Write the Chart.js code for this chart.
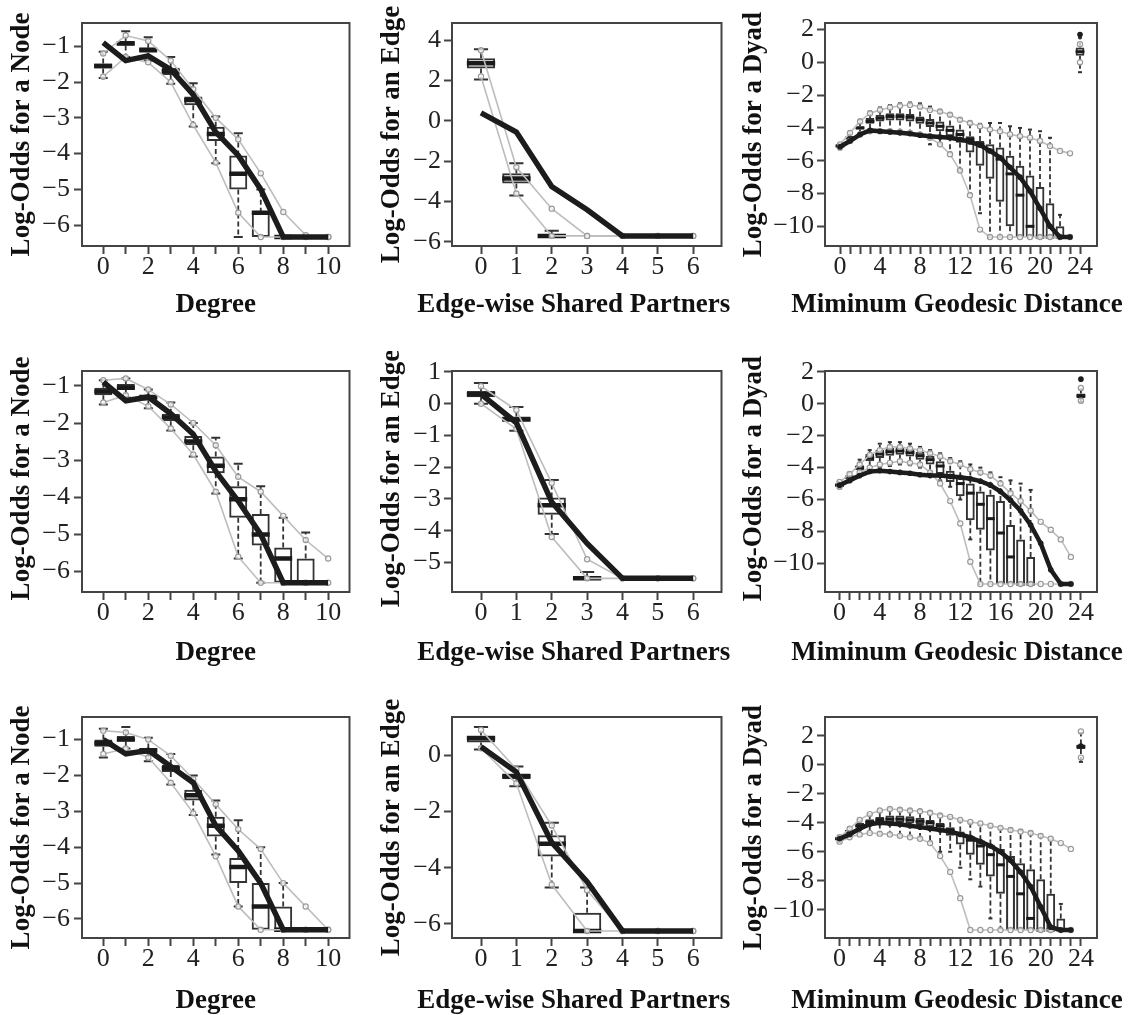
<!DOCTYPE html>
<html>
<head>
<meta charset="utf-8">
<script src="https://cdn.jsdelivr.net/npm/chart.js@4.4.1/dist/chart.umd.min.js"></script>
<style>
  html, body { margin: 0; padding: 0; background: #fff; }
  #wrap { position: relative; width: 1130px; height: 1015px; overflow: hidden; }
  #wrap canvas { position: absolute; }
</style>
</head>
<body>
<div id="wrap"></div>
<script>
// =========================================================
// GOF boxplots: Degree / Edge-wise Shared Partners / Geodesic Distance
// three rows (models) x three statistics
// =========================================================

// ── Categories ──
const degX  = [0, 1, 2, 3, 4, 5, 6, 7, 8, 9, 10];
const espX  = [0, 1, 2, 3, 4, 5, 6];
const distX = [0, 1, 2, 3, 4, 5, 6, 7, 8, 9, 10, 11, 12, 13, 14, 15, 16, 17, 18, 19, 20, 21, 22, 23, 24]; // 24 = NR

// ── Tick values / labelled ticks ──
const degTicks   = [0, 1, 2, 3, 4, 5, 6, 7, 8, 9, 10];
const degLabels  = [0, 2, 4, 6, 8, 10];
const espTicks   = [0, 1, 2, 3, 4, 5, 6];
const espLabels  = [0, 1, 2, 3, 4, 5, 6];
const distTicks  = [0, 1, 2, 3, 4, 5, 6, 7, 8, 9, 10, 11, 12, 13, 14, 15, 16, 17, 18, 19, 20, 21, 22, 23, 24];
const distLabels = [0, 4, 8, 12, 16, 20, 24];
const degYTicks  = [-6, -5, -4, -3, -2, -1];
const esp1YTicks = [-6, -4, -2, 0, 2, 4];
const esp2YTicks = [-5, -4, -3, -2, -1, 0, 1];
const esp3YTicks = [-6, -4, -2, 0];
const distYTicks = [-10, -8, -6, -4, -2, 0, 2];

// ── Row 1: degree ──
const deg1Obs = [-0.9, -1.4, -1.27, -1.65, -2.35, -3.4, -4.05, -5.0, -6.33, -6.33, -6.33];
const deg1Hi  = [-1.2, -0.7, -0.85, -1.4, -2.2, -3.0, -3.6, -4.55, -5.63, -6.28, -6.33];
const deg1Lo  = [-1.85, -1.3, -1.45, -2.0, -3.2, -4.25, -5.65, -6.33, -6.33, -6.33, -6.33];
const deg1Q1  = [-1.62, -0.98, -1.18, -1.8, -2.65, -3.65, -5.0, -6.33, -6.33, null, null];
const deg1Med = [-1.55, -0.92, -1.1, -1.7, -2.5, -3.45, -4.56, -5.65, -6.33, null, null];
const deg1Q3  = [-1.48, -0.85, -1.04, -1.6, -2.4, -3.25, -4.05, -5.65, -6.33, null, null];
const deg1WHi = [-1.15, -0.58, -0.75, -1.3, -2.03, -2.96, -3.43, -5.0, -6.33, null, null];
const deg1WLo = [-1.89, -1.3, -1.4, -2.05, -3.24, -4.27, -6.33, -6.33, -6.33, null, null];

// ── Row 1: edge-wise shared partners ──
const esp1Obs = [0.4, -0.55, -3.25, -4.4, -5.7, -5.7, -5.7];
const esp1Hi  = [3.5, -2.3, -4.35, -5.7, -5.7, -5.7, -5.7];
const esp1Lo  = [2.2, -3.6, -5.7, -5.7, -5.7, -5.7, -5.7];
const esp1Q1  = [2.6, -3.1, -5.7, null, null, null, null];
const esp1Med = [2.85, -2.85, -5.7, null, null, null, null];
const esp1Q3  = [3.1, -2.6, -5.7, null, null, null, null];
const esp1WHi = [3.55, -2.1, -5.45, null, null, null, null];
const esp1WLo = [2.05, -3.7, -5.7, null, null, null, null];

// ── Row 1: geodesic distance (last value = NR) ──
const dist1Obs = [-5.15, -4.8, -4.4, -4.15, -4.2, -4.25, -4.3, -4.35, -4.45, -4.5, -4.55, -4.6, -4.7, -4.85, -5.05, -5.4, -5.8, -6.4, -7.0, -7.85, -8.9, -10.0, -10.65, -10.65, 1.7];
const dist1Hi  = [-5.0, -4.3, -3.6, -3.1, -2.9, -2.75, -2.65, -2.6, -2.7, -2.9, -3.0, -3.2, -3.5, -3.7, -3.9, -4.1, -4.2, -4.4, -4.5, -4.6, -4.8, -5.1, -5.4, -5.55, 1.1];
const dist1Lo  = [-5.2, -4.8, -4.4, -4.2, -4.2, -4.2, -4.25, -4.3, -4.4, -4.6, -5.0, -5.6, -6.6, -8.1, -10.2, -10.65, -10.65, -10.65, -10.65, -10.65, -10.65, -10.65, -10.65, -10.65, 0.0];
const dist1Q1  = [-5.2, -4.7, -4.1, -3.75, -3.6, -3.55, -3.55, -3.6, -3.75, -3.95, -4.2, -4.5, -4.9, -5.5, -6.3, -7.1, -8.5, -10.0, -10.65, -10.65, -10.65, -10.65, -10.65, null, 0.4];
const dist1Med = [-5.1, -4.6, -4.0, -3.6, -3.4, -3.3, -3.3, -3.35, -3.5, -3.7, -3.9, -4.15, -4.4, -4.7, -5.0, -5.4, -5.9, -6.8, -8.1, -10.0, -10.65, -10.65, -10.65, null, 0.65];
const dist1Q3  = [-5.0, -4.5, -3.9, -3.4, -3.2, -3.1, -3.1, -3.15, -3.3, -3.45, -3.6, -3.85, -4.1, -4.5, -4.8, -5.0, -5.2, -5.7, -6.3, -6.9, -7.6, -8.6, -10.0, null, 0.9];
const dist1WHi = [-4.95, -4.2, -3.5, -3.0, -2.75, -2.6, -2.5, -2.45, -2.5, -2.7, -2.9, -3.1, -3.4, -3.6, -3.75, -3.7, -3.7, -3.9, -4.0, -4.1, -4.2, -4.6, -9.3, null, 1.5];
const dist1WLo = [-5.3, -4.9, -4.5, -4.3, -4.3, -4.3, -4.35, -4.4, -4.5, -5.0, -5.0, -5.5, -6.6, -8.0, -9.2, -10.65, -10.65, -10.65, -10.65, -10.65, -10.65, -10.65, -10.65, null, -0.6];

// ── Row 2: degree ──
const deg2Obs = [-0.9, -1.4, -1.3, -1.75, -2.3, -3.3, -4.1, -5.0, -6.3, -6.3, -6.3];
const deg2Hi  = [-0.85, -0.8, -1.1, -1.5, -2.0, -2.6, -3.45, -3.85, -4.5, -5.15, -5.65];
const deg2Lo  = [-1.45, -1.25, -1.55, -2.15, -2.85, -3.85, -5.6, -6.3, -6.3, -6.3, -6.3];
const deg2Q1  = [-1.25, -1.1, -1.4, -1.95, -2.6, -3.35, -4.55, -5.3, -6.3, -6.3, null];
const deg2Med = [-1.15, -1.05, -1.3, -1.85, -2.5, -3.15, -4.05, -5.0, -5.65, -6.3, null];
const deg2Q3  = [-1.05, -0.95, -1.25, -1.75, -2.35, -2.9, -3.7, -4.45, -5.35, -5.65, null];
const deg2WHi = [-0.85, -0.8, -1.1, -1.45, -2.0, -2.4, -3.1, -3.7, -4.55, -4.95, null];
const deg2WLo = [-1.5, -1.3, -1.6, -2.2, -2.9, -3.9, -5.65, -6.3, -6.3, -6.3, null];

// ── Row 2: edge-wise shared partners ──
const esp2Obs = [0.3, -0.6, -3.1, -4.4, -5.5, -5.5, -5.5];
const esp2Hi  = [0.55, -0.2, -2.5, -4.9, -5.5, -5.5, -5.5];
const esp2Lo  = [0.0, -0.8, -4.2, -5.5, -5.5, -5.5, -5.5];
const esp2Q1  = [0.2, -0.55, -3.5, -5.5, null, null, null];
const esp2Med = [0.3, -0.5, -3.2, -5.5, null, null, null];
const esp2Q3  = [0.4, -0.4, -2.95, -5.5, null, null, null];
const esp2WHi = [0.65, -0.1, -2.4, -5.3, null, null, null];
const esp2WLo = [0.0, -0.85, -4.1, -5.5, null, null, null];

// ── Row 2: geodesic distance ──
const dist2Obs = [-5.1, -4.8, -4.5, -4.25, -4.2, -4.25, -4.3, -4.35, -4.45, -4.5, -4.5, -4.55, -4.6, -4.7, -4.85, -5.1, -5.5, -6.05, -6.7, -7.6, -8.75, -10.4, -11.3, -11.3, 1.55];
const dist2Hi  = [-4.9, -4.4, -3.8, -3.2, -2.9, -2.7, -2.7, -2.8, -2.9, -3.1, -3.3, -3.6, -3.8, -4.1, -4.3, -4.5, -5.0, -5.6, -6.1, -6.7, -7.4, -7.9, -8.5, -9.6, 1.0];
const dist2Lo  = [-5.2, -4.8, -4.3, -4.0, -3.8, -3.7, -3.6, -3.7, -3.8, -4.3, -5.0, -6.1, -7.5, -9.9, -11.3, -11.3, -11.3, -11.3, -11.3, -11.3, -11.3, -11.3, -11.3, -11.3, 0.2];
const dist2Q1  = [-5.2, -4.7, -4.15, -3.6, -3.4, -3.25, -3.2, -3.3, -3.5, -3.8, -4.4, -4.9, -5.8, -7.3, -7.9, -9.2, -11.3, -11.3, -11.3, -11.3, null, null, null, null, 0.35];
const dist2Med = [-5.1, -4.6, -4.0, -3.4, -3.15, -3.0, -2.95, -3.05, -3.25, -3.5, -3.9, -4.5, -5.0, -5.6, -6.3, -7.2, -8.1, -9.6, -11.3, -11.3, null, null, null, null, 0.5];
const dist2Q3  = [-5.0, -4.5, -3.85, -3.15, -2.9, -2.75, -2.7, -2.8, -3.0, -3.25, -3.6, -4.2, -4.6, -5.0, -5.5, -5.7, -6.1, -7.6, -8.5, -9.6, null, null, null, null, 0.65];
const dist2WHi = [-4.9, -4.3, -3.5, -2.9, -2.5, -2.4, -2.4, -2.5, -2.7, -2.9, -3.1, -3.4, -3.6, -3.8, -4.0, -4.3, -4.6, -4.8, -5.0, -5.4, null, null, null, null, 0.9];
const dist2WLo = [-5.3, -4.9, -4.4, -4.1, -4.0, -3.9, -3.8, -3.85, -4.0, -4.3, -4.8, -5.2, -6.0, -8.5, -11.3, -11.3, -11.3, -11.3, -11.3, -11.3, null, null, null, null, 0.1];

// ── Row 3: degree ──
const deg3Obs = [-1.0, -1.4, -1.3, -1.75, -2.2, -3.4, -4.1, -5.0, -6.3, -6.3, -6.3];
const deg3Hi  = [-0.75, -0.8, -1.0, -1.45, -2.1, -2.8, -3.5, -4.05, -5.0, -5.65, -6.3];
const deg3Lo  = [-1.4, -1.25, -1.5, -2.2, -3.05, -4.25, -5.65, -6.3, -6.3, -6.3, -6.3];
const deg3Q1  = [-1.2, -1.05, -1.4, -1.9, -2.7, -3.7, -5.0, -6.3, -6.3, null, null];
const deg3Med = [-1.1, -1.0, -1.3, -1.8, -2.55, -3.4, -4.55, -5.65, -6.3, null, null];
const deg3Q3  = [-1.0, -0.9, -1.25, -1.7, -2.4, -3.15, -4.3, -5.0, -5.65, null, null];
const deg3WHi = [-0.7, -0.65, -0.95, -1.4, -2.0, -2.7, -3.25, -4.0, -5.0, null, null];
const deg3WLo = [-1.5, -1.25, -1.6, -2.25, -3.1, -4.2, -5.65, -6.3, -6.3, null, null];

// ── Row 3: edge-wise shared partners ──
const esp3Obs = [0.3, -0.6, -3.1, -4.5, -6.25, -6.25, -6.25];
const esp3Hi  = [0.9, -0.5, -2.5, -4.8, -6.25, -6.25, -6.25];
const esp3Lo  = [0.25, -1.0, -4.6, -6.25, -6.25, -6.25, -6.25];
const esp3Q1  = [0.45, -0.85, -3.6, -6.25, null, null, null];
const esp3Med = [0.6, -0.75, -3.15, -6.25, null, null, null];
const esp3Q3  = [0.7, -0.65, -2.85, -5.6, null, null, null];
const esp3WHi = [1.0, -0.4, -2.4, -4.7, null, null, null];
const esp3WLo = [0.2, -1.1, -4.7, -6.25, null, null, null];

// ── Row 3: geodesic distance ──
const dist3Obs = [-5.1, -4.8, -4.4, -4.1, -4.0, -4.05, -4.1, -4.2, -4.3, -4.4, -4.5, -4.6, -4.8, -5.0, -5.3, -5.6, -6.0, -6.6, -7.4, -8.4, -9.8, -11.2, -11.4, -11.4, 1.3];
const dist3Hi  = [-5.0, -4.4, -3.8, -3.4, -3.15, -3.05, -3.1, -3.15, -3.2, -3.3, -3.5, -3.6, -3.8, -3.95, -4.05, -4.2, -4.35, -4.5, -4.6, -4.7, -4.9, -5.1, -5.4, -5.8, 2.3];
const dist3Lo  = [-5.3, -5.0, -4.8, -4.7, -4.75, -4.8, -4.9, -5.0, -5.1, -5.4, -6.3, -7.4, -9.2, -11.4, -11.4, -11.4, -11.4, -11.4, -11.4, -11.4, -11.4, -11.4, -11.4, -11.4, 0.5];
const dist3Q1  = [-5.2, -4.75, -4.35, -4.15, -4.05, -4.0, -4.0, -4.05, -4.15, -4.3, -4.5, -4.9, -5.5, -6.2, -6.9, -7.7, -8.9, -11.4, -11.4, -11.4, -11.4, -11.4, -11.4, null, 1.1];
const dist3Med = [-5.1, -4.6, -4.2, -3.95, -3.8, -3.75, -3.75, -3.8, -3.9, -4.0, -4.2, -4.5, -4.8, -5.2, -5.6, -6.2, -6.9, -7.7, -8.9, -10.6, -11.4, -11.4, -11.4, null, 1.25];
const dist3Q3  = [-5.0, -4.5, -4.0, -3.75, -3.6, -3.5, -3.5, -3.55, -3.65, -3.8, -4.0, -4.3, -4.6, -4.9, -5.2, -5.5, -5.8, -6.3, -6.8, -7.2, -7.9, -8.9, -10.6, null, 1.4];
const dist3WHi = [-4.9, -4.3, -3.8, -3.4, -3.15, -3.0, -3.0, -3.05, -3.1, -3.2, -3.4, -3.6, -3.8, -4.0, -4.1, -4.2, -4.3, -4.4, -4.5, -4.6, -4.8, -5.1, -9.6, null, 2.2];
const dist3WLo = [-5.35, -5.0, -4.8, -4.7, -4.75, -4.8, -4.9, -5.0, -5.1, -5.3, -6.0, -6.0, -7.1, -7.9, -8.4, -10.6, -11.3, -11.4, -11.4, -11.4, -11.4, -11.4, -11.4, null, 0.2];

// ── Layout (pixels) ──
const COLS = [
    { left: 0,   w: 360, padR: 8,  yw: 82, tickPad: 4, yTitleX: 22, xShift: 0 },
    { left: 370, w: 362, padR: 8,  yw: 82, tickPad: 3, yTitleX: 22, xShift: -13 },
    { left: 740, w: 390, padR: 33, yw: 85, tickPad: 3, yTitleX: 14, xShift: -4 }
];
const ROWS = [
    { top: 0,   padT: 23, h: 321, xh: 75, xTitleOff: 59, yShift: 0 },
    { top: 351, padT: 20, h: 318, xh: 77, xTitleOff: 61, yShift: -3 },
    { top: 697, padT: 20, h: 320, xh: 79, xTitleOff: 63, yShift: 0 }
];

const PANELS = [
    { r: 0, c: 0, kind: 'deg',  xr: [-0.94, 10.94], yr: [-6.58, -0.35], yt: degYTicks,
      s: [deg1Obs, deg1Hi, deg1Lo, deg1Q1, deg1Med, deg1Q3, deg1WHi, deg1WLo] },
    { r: 0, c: 1, kind: 'esp',  xr: [-0.82, 6.8],   yr: [-6.2, 4.85],   yt: esp1YTicks,
      s: [esp1Obs, esp1Hi, esp1Lo, esp1Q1, esp1Med, esp1Q3, esp1WHi, esp1WLo] },
    { r: 0, c: 2, kind: 'dist', xr: [-1.5, 25.7],   yr: [-11.2, 2.4],   yt: distYTicks,
      s: [dist1Obs, dist1Hi, dist1Lo, dist1Q1, dist1Med, dist1Q3, dist1WHi, dist1WLo] },
    { r: 1, c: 0, kind: 'deg',  xr: [-0.95, 10.95], yr: [-6.55, -0.6],  yt: degYTicks,
      s: [deg2Obs, deg2Hi, deg2Lo, deg2Q1, deg2Med, deg2Q3, deg2WHi, deg2WLo] },
    { r: 1, c: 1, kind: 'esp',  xr: [-0.82, 6.8],   yr: [-5.93, 1.03],  yt: esp2YTicks,
      s: [esp2Obs, esp2Hi, esp2Lo, esp2Q1, esp2Med, esp2Q3, esp2WHi, esp2WLo] },
    { r: 1, c: 2, kind: 'dist', xr: [-1.45, 25.6],  yr: [-11.8, 2.06],  yt: distYTicks,
      s: [dist2Obs, dist2Hi, dist2Lo, dist2Q1, dist2Med, dist2Q3, dist2WHi, dist2WLo] },
    { r: 2, c: 0, kind: 'deg',  xr: [-0.95, 10.95], yr: [-6.53, -0.37], yt: degYTicks,
      s: [deg3Obs, deg3Hi, deg3Lo, deg3Q1, deg3Med, deg3Q3, deg3WHi, deg3WLo] },
    { r: 2, c: 1, kind: 'esp',  xr: [-0.82, 6.8],   yr: [-6.5, 1.36],   yt: esp3YTicks,
      s: [esp3Obs, esp3Hi, esp3Lo, esp3Q1, esp3Med, esp3Q3, esp3WHi, esp3WLo] },
    { r: 2, c: 2, kind: 'dist', xr: [-1.45, 25.6],  yr: [-11.95, 3.3],  yt: distYTicks,
      s: [dist3Obs, dist3Hi, dist3Lo, dist3Q1, dist3Med, dist3Q3, dist3WHi, dist3WLo] }
];

const KINDS = {
    deg:  { xs: degX,  xt: degTicks,  xl: degLabels,  xTitle: 'Degree',                    yTitle: 'Log-Odds for a Node',  gapAt: null, boxW: 0.8 },
    esp:  { xs: espX,  xt: espTicks,  xl: espLabels,  xTitle: 'Edge-wise Shared Partners', yTitle: 'Log-Odds for an Edge', gapAt: null, boxW: 0.8 },
    dist: { xs: distX, xt: distTicks, xl: distLabels, xTitle: 'Miminum Geodesic Distance', yTitle: 'Log-Odds for a Dyad',  gapAt: 24,   boxW: 0.88 }
};

const SERIF = '"Liberation Serif", "Times New Roman", serif';
Chart.defaults.font.family = SERIF;

// ── Helpers ──
function _fmt(v) {
    return v < 0 ? '\u2212' + Math.abs(v) : String(v);
}

function _unitPx(chart, f) {
    const s = chart.scales && chart.scales.x;
    if (!s || !s.width) return 6;
    return Math.abs(s.getPixelForValue(f) - s.getPixelForValue(0));
}

// puntos {x,y}; hueco antes de NR
function _pts(xs, ys, gapAt) {
    const out = [];
    xs.forEach((x, i) => {
        if (gapAt !== null && x === gapAt) out.push({ x: x - 0.5, y: null });
        out.push({ x, y: ys[i] });
    });
    return out;
}

function _whiskers(xs, q1, q3, wHi, wLo) {
    const out = [];
    xs.forEach((x, i) => {
        if (q3[i] === null) return;
        if (wHi[i] !== null && wHi[i] > q3[i]) out.push({ x, y: q3[i] }, { x, y: wHi[i] }, { x, y: null });
        if (wLo[i] !== null && wLo[i] < q1[i]) out.push({ x, y: q1[i] }, { x, y: wLo[i] }, { x, y: null });
    });
    return out;
}

function _caps(xs, q1, q3, wHi, wLo) {
    const out = [];
    xs.forEach((x, i) => {
        if (q3[i] === null) return;
        if (wHi[i] !== null && wHi[i] > q3[i]) out.push({ x, y: wHi[i] });
        if (wLo[i] !== null && wLo[i] < q1[i]) out.push({ x, y: wLo[i] });
    });
    return out;
}

// ── Frame + axis titles ──
const framePlugin = {
    id: 'frame',
    afterDraw(chart, args, o) {
        const { ctx, chartArea: a } = chart;
        ctx.save();
        ctx.strokeStyle = '#444';
        ctx.lineWidth = 2;
        ctx.strokeRect(a.left, a.top, a.right - a.left, a.bottom - a.top);

        ctx.fillStyle = '#111';
        ctx.font = 'bold 27px ' + SERIF;
        ctx.textAlign = 'center';
        ctx.textBaseline = 'middle';
        ctx.fillText(o.xTitle, (a.left + a.right) / 2 + o.xShift, a.bottom + o.xOff);
        ctx.translate(o.yX, (a.top + a.bottom) / 2 + o.yShift);
        ctx.rotate(-Math.PI / 2);
        ctx.fillText(o.yTitle, 0, 0);
        ctx.restore();
    }
};

// ── Build one panel ──
function crearPanel(p) {
    const col = COLS[p.c], row = ROWS[p.r], k = KINDS[p.kind];
    const [obs, hi, lo, q1, med, q3, wHi, wLo] = p.s;
    const xs = k.xs;
    const isDist = p.kind === 'dist';

    const cv = document.createElement('canvas');
    cv.width = col.w; cv.height = row.h;
    cv.style.left = col.left + 'px'; cv.style.top = row.top + 'px';
    cv.style.width = col.w + 'px'; cv.style.height = row.h + 'px';
    document.getElementById('wrap').appendChild(cv);

    const boxes = [];
    xs.forEach((x, i) => { if (q1[i] !== null) boxes.push({ x, y: [q1[i], q3[i]] }); });
    const meds = [];
    xs.forEach((x, i) => { if (med[i] !== null) meds.push({ x, y: med[i] }); });

    const grey = {
        type: 'line', borderColor: '#bdbdbd', borderWidth: 1.6, spanGaps: false,
        pointRadius: 2.6, pointStyle: 'circle', pointBackgroundColor: 'rgba(255,255,255,0.7)',
        pointBorderColor: '#9a9a9a', pointBorderWidth: 1.2, order: 1
    };

    const tickGrid = { display: true, drawOnChartArea: false, drawTicks: true, tickLength: 8,
        tickWidth: 2, tickColor: '#444', offset: false };

    new Chart(cv, {
        type: 'bar',
        data: {
            datasets: [
                { type: 'line', data: _pts(xs, obs, k.gapAt), borderColor: '#1c1c1c',
                  borderWidth: isDist ? 4.5 : 5.5, spanGaps: false, order: 0,
                  pointRadius: isDist ? 2.8 : 0, pointBackgroundColor: '#1c1c1c', pointBorderWidth: 0 },
                Object.assign({ data: _pts(xs, hi, k.gapAt) }, grey),
                Object.assign({ data: _pts(xs, lo, k.gapAt) }, grey),
                { type: 'line', data: meds, showLine: false, order: 2, pointStyle: 'line',
                  pointRadius: c => _unitPx(c.chart, k.boxW / 2), pointBorderWidth: isDist ? 3 : 4.5,
                  pointBorderColor: '#1a1a1a' },
                { type: 'line', data: _caps(xs, q1, q3, wHi, wLo), showLine: false, order: 3, pointStyle: 'line',
                  pointRadius: c => _unitPx(c.chart, 0.2), pointBorderWidth: 2, pointBorderColor: '#333' },
                { type: 'line', data: _whiskers(xs, q1, q3, wHi, wLo), spanGaps: false, order: 4,
                  borderColor: '#333', borderWidth: 1.8, borderDash: [5, 3], pointRadius: 0 },
                { type: 'bar', data: boxes, order: 5, borderColor: '#333', borderWidth: 2,
                  backgroundColor: 'rgba(255,255,255,0)', borderSkipped: false,
                  categoryPercentage: k.boxW, barPercentage: 1 }
            ]
        },
        options: {
            responsive: false,
            animation: false,
            events: [],
            layout: { padding: { left: 0, top: row.padT, right: col.padR, bottom: 0 } },
            plugins: {
                legend: { display: false },
                tooltip: { enabled: false },
                frame: { xTitle: k.xTitle, yTitle: k.yTitle, xOff: row.xTitleOff, xShift: col.xShift,
                         yX: col.yTitleX, yShift: row.yShift }
            },
            scales: {
                x: {
                    type: 'linear', min: p.xr[0], max: p.xr[1], offset: false,
                    afterBuildTicks: s => { s.ticks = k.xt.map(v => ({ value: v })); },
                    afterFit: s => { s.height = row.xh; },
                    grid: tickGrid,
                    border: { display: false },
                    ticks: { autoSkip: false, maxRotation: 0, minRotation: 0, padding: 0, color: '#222',
                             font: { size: 26, lineHeight: 1 },
                             callback: v => k.xl.includes(v) ? _fmt(v) : '' }
                },
                y: {
                    type: 'linear', min: p.yr[0], max: p.yr[1], beginAtZero: false,
                    afterBuildTicks: s => { s.ticks = p.yt.map(v => ({ value: v })); },
                    afterFit: s => { s.width = col.yw; },
                    grid: tickGrid,
                    border: { display: false },
                    ticks: { autoSkip: false, padding: col.tickPad, color: '#222',
                             font: { size: 26, lineHeight: 1 }, callback: v => _fmt(v) }
                }
            }
        },
        plugins: [framePlugin]
    });
}

PANELS.forEach(crearPanel);
</script>
</body>
</html>
